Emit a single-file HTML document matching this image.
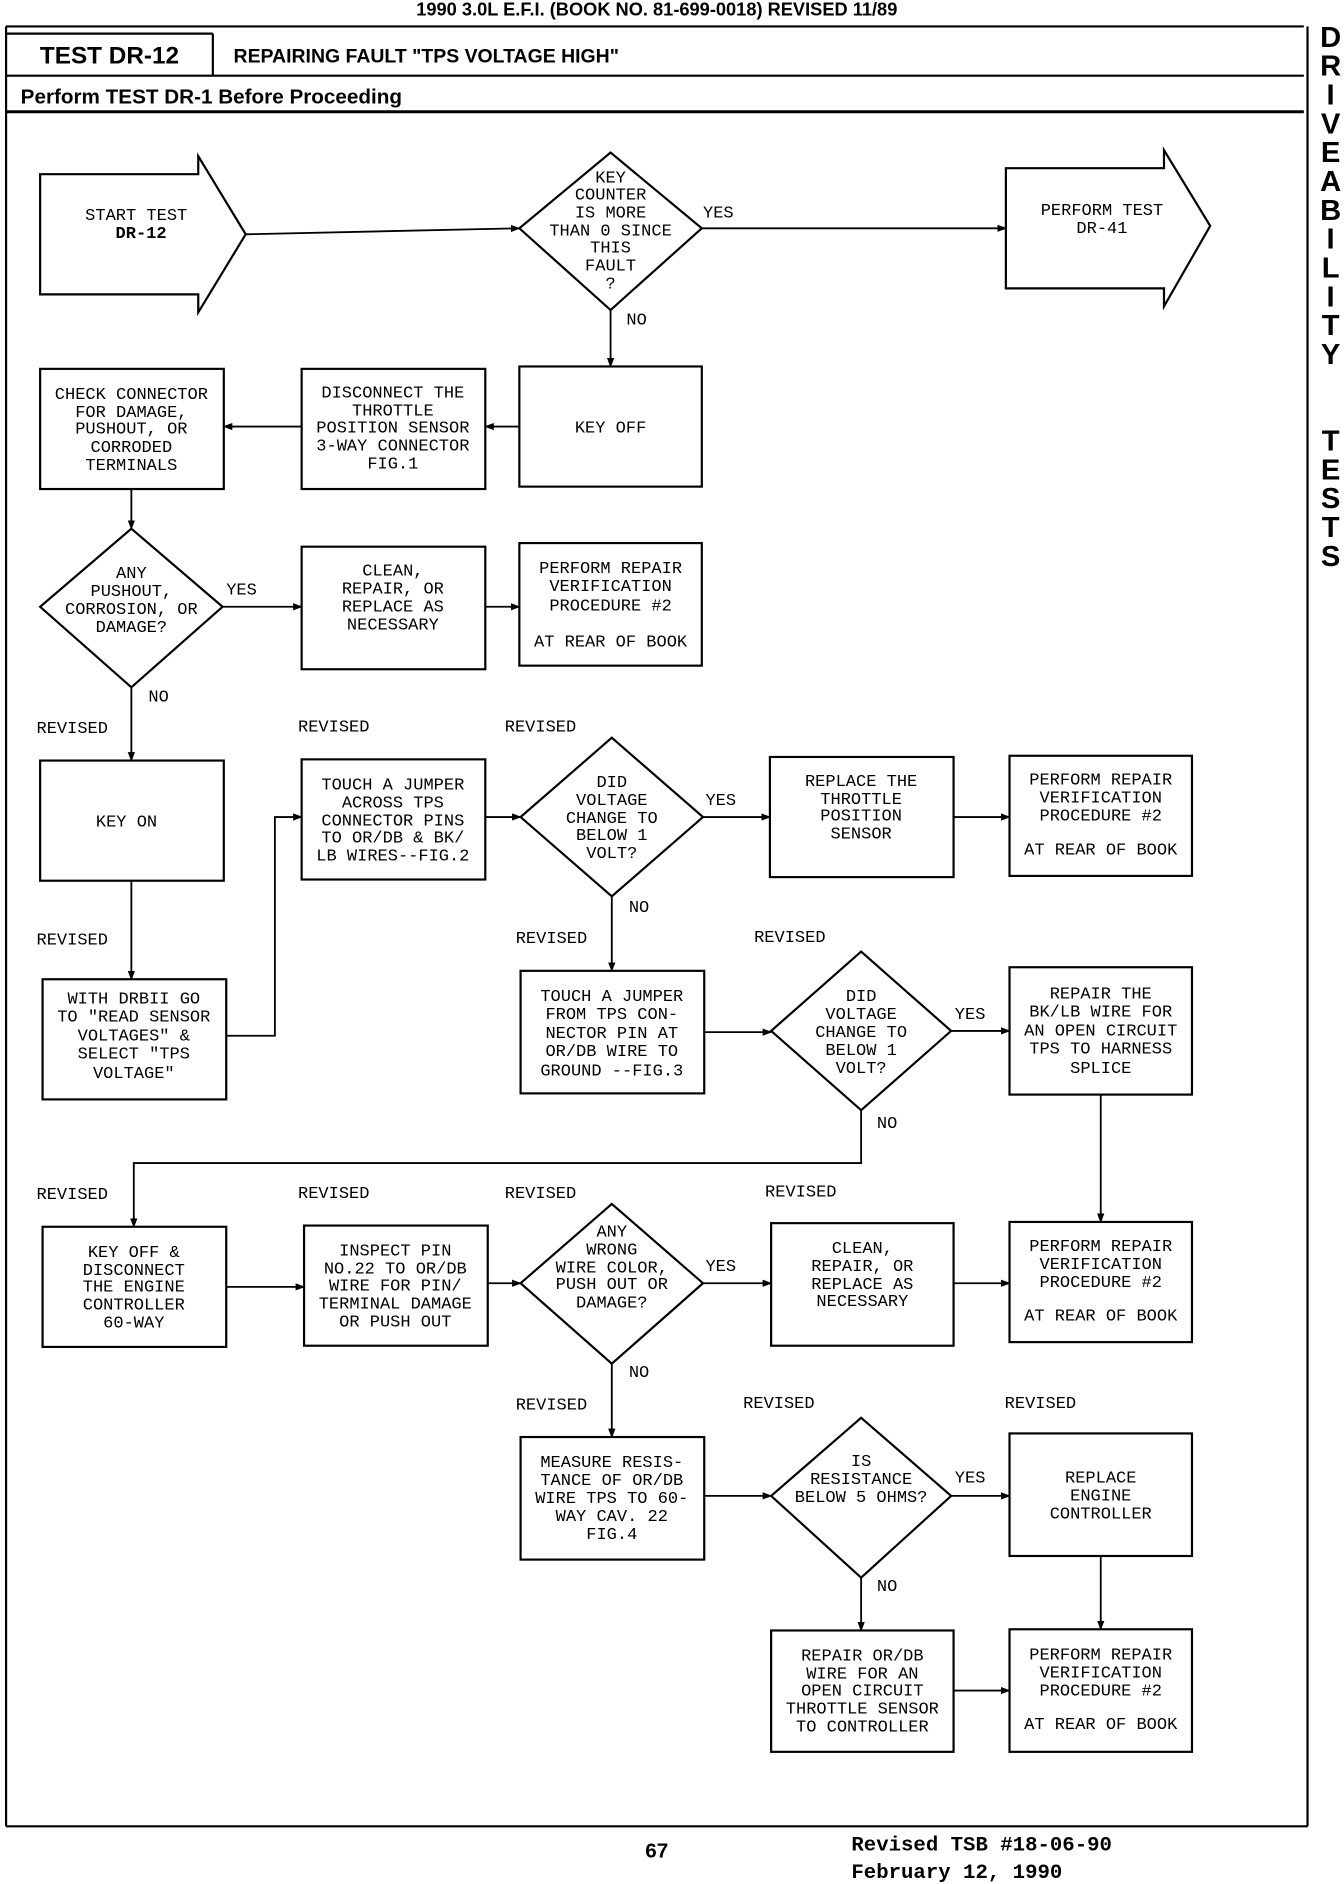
<!DOCTYPE html>
<html><head><meta charset="utf-8"><style>
html,body{margin:0;padding:0;background:#fff;}
svg{display:block;}
.t{font-family:"Liberation Mono",monospace;font-size:14px;text-anchor:middle;fill:#000;}
.l{font-family:"Liberation Mono",monospace;font-size:14px;fill:#000;}
.h{font-family:"Liberation Sans",sans-serif;font-weight:bold;fill:#000;}
</style></head><body>
<svg width="1344" height="1884" viewBox="0 0 1105 1568" preserveAspectRatio="none" xmlns="http://www.w3.org/2000/svg">
<defs><marker id="a" markerWidth="8" markerHeight="8" refX="7" refY="4" orient="auto" markerUnits="userSpaceOnUse"><path d="M0,1 L8,4 L0,7 Z" fill="#000"/></marker></defs>
<g fill="none" stroke="#000" stroke-width="1.8">
<!-- frame -->
<path d="M5,22 H1072 M5,22 V1520 M1075,22 V1520 M5,1520 H1075"/>
<path d="M5,63 H1072 M175,28 V63 M5,28 H175"/>
<path d="M5,93 H1072" stroke-width="2.5"/>
<!-- start / perform arrows -->
<path d="M33,145 H163 V130 L202,195 L163,260 V245 H33 Z"/>
<path d="M827,140 H957 V125 L995,188 L957,255 V240 H827 Z"/>
<!-- diamonds -->
<path d="M502,127 L577,190 L502,258 L427,190 Z"/>
<path d="M108,440 L183,505 L108,572 L33,505 Z"/>
<path d="M503,614 L578,680 L503,746 L428,680 Z"/>
<path d="M708,792 L782,858 L708,924 L634,858 Z"/>
<path d="M503,1002 L578,1068 L503,1135 L428,1068 Z"/>
<path d="M708,1180 L782,1245 L708,1313 L634,1245 Z"/>
<!-- boxes -->
<rect x="427" y="305" width="150" height="100"/>
<rect x="248" y="307" width="151" height="100"/>
<rect x="33" y="307" width="151" height="100"/>
<rect x="248" y="455" width="151" height="102"/>
<rect x="427" y="452" width="150" height="102"/>
<rect x="33" y="633" width="151" height="100"/>
<rect x="35" y="815" width="151" height="100"/>
<rect x="248" y="632" width="151" height="100"/>
<rect x="633" y="630" width="151" height="100"/>
<rect x="830" y="629" width="150" height="100"/>
<rect x="428" y="808" width="151" height="102"/>
<rect x="830" y="805" width="150" height="106"/>
<rect x="35" y="1021" width="151" height="100"/>
<rect x="250" y="1020" width="151" height="100"/>
<rect x="634" y="1018" width="150" height="102"/>
<rect x="830" y="1017" width="150" height="100"/>
<rect x="428" y="1196" width="151" height="102"/>
<rect x="830" y="1193" width="150" height="102"/>
<rect x="634" y="1357" width="150" height="101"/>
<rect x="830" y="1356" width="150" height="102"/>
</g>
<g fill="none" stroke="#000" stroke-width="1.5" marker-end="url(#a)">
<path d="M202,195 L427,190"/>
<path d="M577,190 H827"/>
<path d="M502,258 V305"/>
<path d="M427,355 H399"/>
<path d="M248,355 H184"/>
<path d="M108,407 V440"/>
<path d="M183,505 H248"/>
<path d="M399,505 H427"/>
<path d="M108,572 V633"/>
<path d="M108,733 V815"/>
<path d="M186,862 H226 V680 H248"/>
<path d="M399,680 H428"/>
<path d="M578,680 H633"/>
<path d="M784,680 H830"/>
<path d="M503,746 V808"/>
<path d="M579,859 H634"/>
<path d="M782,858 H830"/>
<path d="M708,924 V968 H110 V1021"/>
<path d="M905,911 V1017"/>
<path d="M186,1071 H250"/>
<path d="M401,1068 H428"/>
<path d="M578,1068 H634"/>
<path d="M784,1068 H830"/>
<path d="M503,1135 V1196"/>
<path d="M579,1245 H634"/>
<path d="M782,1245 H830"/>
<path d="M905,1295 V1356"/>
<path d="M708,1313 V1357"/>
<path d="M784,1407 H830"/>
</g>
<!-- header text -->
<text class="h" x="540" y="13" font-size="15" text-anchor="middle">1990 3.0L E.F.I.   (BOOK NO. 81-699-0018)   REVISED 11/89</text>
<text class="h" x="90" y="53" font-size="20" text-anchor="middle" font-weight="normal">TEST DR-12</text>
<text class="h" x="192" y="52" font-size="16">REPAIRING FAULT "TPS VOLTAGE HIGH"</text>
<text class="h" x="17" y="86" font-size="17">Perform TEST DR-1 Before Proceeding</text>
<g class="h" font-size="24" text-anchor="middle">
<text x="1094" y="39">D</text><text x="1094" y="63">R</text><text x="1094" y="87">I</text><text x="1094" y="111">V</text><text x="1094" y="135">E</text><text x="1094" y="159">A</text><text x="1094" y="183">B</text><text x="1094" y="207">I</text><text x="1094" y="231">L</text><text x="1094" y="255">I</text><text x="1094" y="279">T</text><text x="1094" y="303">Y</text>
<text x="1094" y="375">T</text><text x="1094" y="399">E</text><text x="1094" y="423">S</text><text x="1094" y="447">T</text><text x="1094" y="471">S</text>
</g>
<text class="h" x="540" y="1546" font-size="17" font-weight="normal" text-anchor="middle">67</text>
<text x="700" y="1540" font-family="Liberation Mono,monospace" font-size="17" font-weight="bold">Revised TSB #18-06-90</text>
<text x="700" y="1563" font-family="Liberation Mono,monospace" font-size="17" font-weight="bold">February 12, 1990</text>
<!-- node text -->
<g class="t">
<text x="112" y="183">START TEST</text><text x="116" y="198" font-weight="bold">DR-12</text>
<text x="502" y="152">KEY</text><text x="502" y="166">COUNTER</text><text x="502" y="181">IS MORE</text><text x="502" y="196">THAN 0 SINCE</text><text x="502" y="210">THIS</text><text x="502" y="225">FAULT</text><text x="502" y="240">?</text>
<text x="906" y="179">PERFORM TEST</text><text x="906" y="194">DR-41</text>
<text x="502" y="360">KEY OFF</text>
<text x="323" y="331">DISCONNECT THE</text><text x="323" y="346">THROTTLE</text><text x="323" y="360">POSITION SENSOR</text><text x="323" y="375">3-WAY CONNECTOR</text><text x="323" y="390">FIG.1</text>
<text x="108" y="332">CHECK CONNECTOR</text><text x="108" y="347">FOR DAMAGE,</text><text x="108" y="361">PUSHOUT, OR</text><text x="108" y="376">CORRODED</text><text x="108" y="391">TERMINALS</text>
<text x="108" y="481">ANY</text><text x="108" y="496">PUSHOUT,</text><text x="108" y="511">CORROSION, OR</text><text x="108" y="526">DAMAGE?</text>
<text x="323" y="479">CLEAN,</text><text x="323" y="494">REPAIR, OR</text><text x="323" y="509">REPLACE AS</text><text x="323" y="524">NECESSARY</text>
<text x="502" y="477">PERFORM REPAIR</text><text x="502" y="492">VERIFICATION</text><text x="502" y="508">PROCEDURE #2</text><text x="502" y="538">AT REAR OF BOOK</text>
<text x="104" y="688">KEY ON</text>
<text x="110" y="835">WITH DRBII GO</text><text x="110" y="850">TO "READ SENSOR</text><text x="110" y="866">VOLTAGES" &amp;</text><text x="110" y="881">SELECT "TPS</text><text x="110" y="897">VOLTAGE"</text>
<text x="323" y="657">TOUCH A JUMPER</text><text x="323" y="672">ACROSS TPS</text><text x="323" y="687">CONNECTOR PINS</text><text x="323" y="701">TO OR/DB &amp; BK/</text><text x="323" y="716">LB WIRES--FIG.2</text>
<text x="503" y="655">DID</text><text x="503" y="670">VOLTAGE</text><text x="503" y="685">CHANGE TO</text><text x="503" y="699">BELOW 1</text><text x="503" y="714">VOLT?</text>
<text x="708" y="654">REPLACE THE</text><text x="708" y="669">THROTTLE</text><text x="708" y="683">POSITION</text><text x="708" y="698">SENSOR</text>
<text x="905" y="653">PERFORM REPAIR</text><text x="905" y="668">VERIFICATION</text><text x="905" y="683">PROCEDURE #2</text><text x="905" y="711">AT REAR OF BOOK</text>
<text x="503" y="833">TOUCH A JUMPER</text><text x="503" y="848">FROM TPS CON-</text><text x="503" y="864">NECTOR PIN AT</text><text x="503" y="879">OR/DB WIRE TO</text><text x="503" y="895">GROUND --FIG.3</text>
<text x="708" y="833">DID</text><text x="708" y="848">VOLTAGE</text><text x="708" y="863">CHANGE TO</text><text x="708" y="878">BELOW 1</text><text x="708" y="893">VOLT?</text>
<text x="905" y="831">REPAIR THE</text><text x="905" y="846">BK/LB WIRE FOR</text><text x="905" y="862">AN OPEN CIRCUIT</text><text x="905" y="877">TPS TO HARNESS</text><text x="905" y="893">SPLICE</text>
<text x="110" y="1046">KEY OFF &amp;</text><text x="110" y="1061">DISCONNECT</text><text x="110" y="1075">THE ENGINE</text><text x="110" y="1090">CONTROLLER</text><text x="110" y="1105">60-WAY</text>
<text x="325" y="1045">INSPECT PIN</text><text x="325" y="1060">NO.22 TO OR/DB</text><text x="325" y="1074">WIRE FOR PIN/</text><text x="325" y="1089">TERMINAL DAMAGE</text><text x="325" y="1104">OR PUSH OUT</text>
<text x="503" y="1029">ANY</text><text x="503" y="1044">WRONG</text><text x="503" y="1059">WIRE COLOR,</text><text x="503" y="1073">PUSH OUT OR</text><text x="503" y="1088">DAMAGE?</text>
<text x="709" y="1043">CLEAN,</text><text x="709" y="1058">REPAIR, OR</text><text x="709" y="1073">REPLACE AS</text><text x="709" y="1087">NECESSARY</text>
<text x="905" y="1041">PERFORM REPAIR</text><text x="905" y="1056">VERIFICATION</text><text x="905" y="1071">PROCEDURE #2</text><text x="905" y="1099">AT REAR OF BOOK</text>
<text x="503" y="1221">MEASURE RESIS-</text><text x="503" y="1236">TANCE OF OR/DB</text><text x="503" y="1251">WIRE TPS TO 60-</text><text x="503" y="1266">WAY CAV. 22</text><text x="503" y="1281">FIG.4</text>
<text x="708" y="1220">IS</text><text x="708" y="1235">RESISTANCE</text><text x="708" y="1250">BELOW 5 OHMS?</text>
<text x="905" y="1234">REPLACE</text><text x="905" y="1249">ENGINE</text><text x="905" y="1264">CONTROLLER</text>
<text x="709" y="1382">REPAIR OR/DB</text><text x="709" y="1397">WIRE FOR AN</text><text x="709" y="1411">OPEN CIRCUIT</text><text x="709" y="1426">THROTTLE SENSOR</text><text x="709" y="1441">TO CONTROLLER</text>
<text x="905" y="1381">PERFORM REPAIR</text><text x="905" y="1396">VERIFICATION</text><text x="905" y="1411">PROCEDURE #2</text><text x="905" y="1439">AT REAR OF BOOK</text>
</g>
<g class="l">
<text x="578" y="181">YES</text><text x="515" y="270">NO</text>
<text x="186" y="495">YES</text><text x="122" y="584">NO</text>
<text x="30" y="610">REVISED</text><text x="245" y="609">REVISED</text><text x="415" y="609">REVISED</text>
<text x="30" y="786">REVISED</text>
<text x="580" y="670">YES</text><text x="517" y="759">NO</text>
<text x="424" y="785">REVISED</text><text x="620" y="784">REVISED</text>
<text x="785" y="848">YES</text><text x="721" y="939">NO</text>
<text x="30" y="998">REVISED</text><text x="245" y="997">REVISED</text><text x="415" y="997">REVISED</text><text x="629" y="996">REVISED</text>
<text x="580" y="1058">YES</text><text x="517" y="1146">NO</text>
<text x="424" y="1173">REVISED</text><text x="611" y="1172">REVISED</text><text x="826" y="1172">REVISED</text>
<text x="785" y="1234">YES</text><text x="721" y="1324">NO</text>
</g>
</svg>
</body></html>
